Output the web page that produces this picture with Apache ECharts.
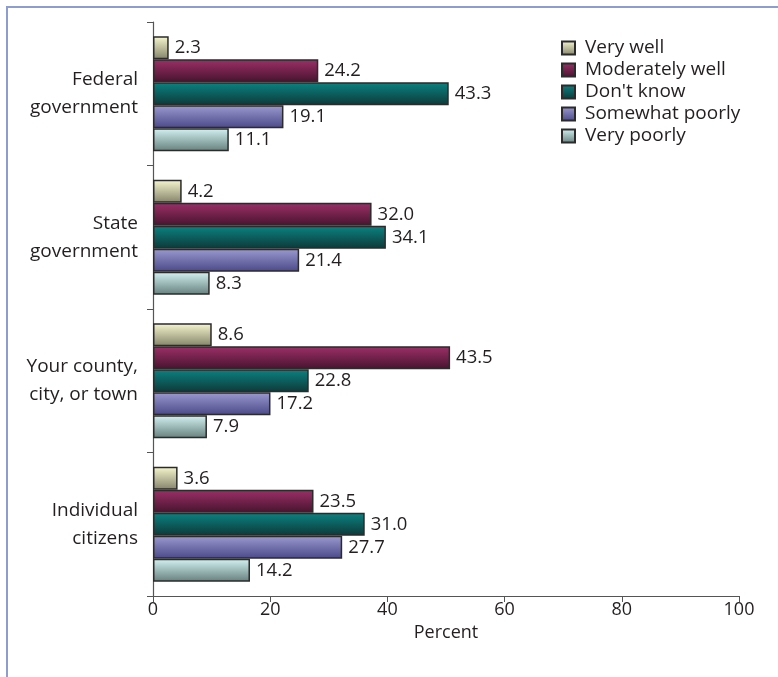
<!DOCTYPE html>
<html>
<head>
<meta charset="utf-8">
<script src="https://cdn.jsdelivr.net/npm/echarts@6/dist/echarts.min.js"></script>
<style>
  html, body { margin: 0; padding: 0; background: #fff; }
  #main { width: 778px; height: 677px; }
</style>
</head>
<body>
<div id="main"></div>
<script>
var chartDom = document.getElementById('main');
var myChart = echarts.init(chartDom);
var option;

// data as printed on the chart
let categories = ['Federal\ngovernment', 'State\ngovernment', 'Your county,\ncity, or town', 'Individual\ncitizens'];
let seriesNames = ['Very well', 'Moderately well', "Don't know", 'Somewhat poorly', 'Very poorly'];
let veryWell = [2.3, 4.2, 8.6, 3.6];
let moderatelyWell = [24.2, 32.0, 43.5, 23.5];
let dontKnow = [43.3, 34.1, 22.8, 31.0];
let somewhatPoorly = [19.1, 21.4, 17.2, 27.7];
let veryPoorly = [11.1, 8.3, 7.9, 14.2];
let tickLabels = ['0', '20', '40', '60', '80', '100'];

// the printed axis runs about 1.166x ahead of the bars, so the real extent is ~85.8
let axisMax = 85.8;
let interval = axisMax / 5;

let colors = [
    ['#f7f7cf', '#84836a'],
    ['#9c3068', '#46142e'],
    ['#0b8382', '#0f3838'],
    ['#9c9ad0', '#4a4888'],
    ['#d4f3f3', '#657f7c']
];

function grad(c) {
    return new echarts.graphic.LinearGradient(0, 0, 0, 1, [
        { offset: 0, color: c[0] },
        { offset: 1, color: c[1] }
    ]);
}

let allData = [veryWell, moderatelyWell, dontKnow, somewhatPoorly, veryPoorly];
let series = [];
for (var i = 0; i < allData.length; i++) {
    series.push({
        name: seriesNames[i],
        type: 'bar',
        data: allData[i],
        barWidth: 23,
        barGap: '0%',
        itemStyle: {
            color: grad(colors[i]),
            borderColor: '#2b2b2b',
            borderWidth: 1.5
        },
        label: {
            show: true,
            position: 'right',
            distance: 6,
            color: '#231f20',
            fontSize: 18.5,
            fontFamily: 'Open Sans',
            formatter: function(p) {
                return p.value.toFixed(1);
            }
        }
    });
}

option = {
    animation: false,
    textStyle: { fontFamily: 'Open Sans' },
    graphic: [{
        type: 'polyline',
        shape: { points: [[7, 677], [7, 7], [778, 7]] },
        style: { stroke: '#8e9dcf', lineWidth: 2, fill: null }
    }],
    grid: {
        left: 153,
        right: 39,
        top: 22,
        bottom: 81
    },
    legend: {
        orient: 'vertical',
        left: 556,
        top: 32,
        itemWidth: 13,
        itemHeight: 13,
        itemGap: 0,
        icon: 'rect',
        textStyle: {
            fontSize: 19,
            lineHeight: 22,
            color: '#231f20',
            fontFamily: 'Open Sans',
            padding: [0, 0, 0, 5]
        },
        data: seriesNames
    },
    xAxis: {
        type: 'value',
        min: 0,
        max: axisMax,
        interval: interval,
        name: 'Percent',
        nameLocation: 'middle',
        nameGap: 25,
        nameTextStyle: { fontSize: 18, color: '#231f20' },
        splitLine: { show: false },
        axisLine: { show: true, lineStyle: { color: '#555', width: 1.2 } },
        axisTick: { show: true, length: 6, lineStyle: { color: '#555' } },
        axisLabel: {
            fontSize: 18,
            color: '#231f20',
            margin: 5,
            formatter: function(v) {
                return tickLabels[Math.round(v / interval)];
            }
        }
    },
    yAxis: {
        type: 'category',
        data: categories,
        inverse: true,
        axisLine: { show: true, lineStyle: { color: '#555', width: 1.2 } },
        axisTick: { show: true, length: 6, lineStyle: { color: '#555' } },
        axisLabel: {
            fontSize: 19,
            color: '#231f20',
            lineHeight: 28,
            margin: 15,
            align: 'right'
        }
    },
    series: series
};

option && myChart.setOption(option);
</script>
</body>
</html>
